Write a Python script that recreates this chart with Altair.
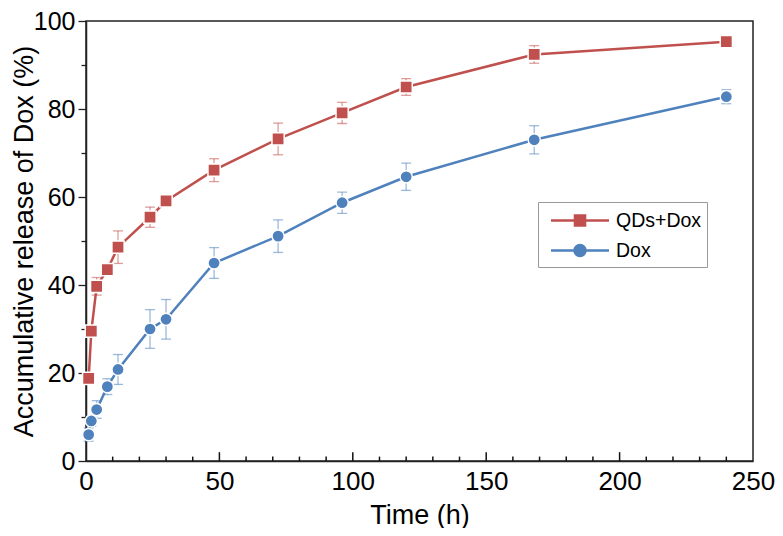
import altair as alt
import pandas as pd

times = [1, 2, 4, 8, 12, 24, 30, 48, 72, 96, 120, 168, 240]
qd_vals = [18.8, 29.5, 39.7, 43.5, 48.6, 55.4, 59.1, 66.1, 73.2, 79.1, 85.0, 92.4, 95.3]
qd_err = [1.0, 1.0, 2.0, 1.0, 3.7, 2.3, 1.0, 2.6, 3.6, 2.4, 1.9, 2.0, 1.2]
dox_vals = [6.0, 9.1, 11.7, 16.9, 20.8, 30.0, 32.2, 45.0, 51.1, 58.7, 64.6, 73.0, 82.8]
dox_err = [1.5, 1.2, 2.0, 1.8, 3.4, 4.4, 4.5, 3.5, 3.7, 2.4, 3.1, 3.2, 1.6]

series_names = ["QDs+Dox", "Dox"]
colors = ["#C0504D", "#4F81BD"]
x_major = [0, 50, 100, 150, 200, 250]
x_minor = [10, 20, 30, 40, 60, 70, 80, 90, 110, 120, 130, 140, 160, 170, 180, 190, 210, 220, 230, 240]
y_major = [0, 20, 40, 60, 80, 100]
y_minor = [10, 30, 50, 70, 90]

rows = []
for name, vals, errs in ((series_names[0], qd_vals, qd_err), (series_names[1], dox_vals, dox_err)):
    for t, v, e in zip(times, vals, errs):
        rows.append({"series": name, "t": t, "v": v, "lo": v - e, "hi": v + e})
df = pd.DataFrame(rows)

tick_rows = [{"tick": t, "len": 2.0} for t in x_major[1:-1]] + [{"tick": t, "len": 1.0} for t in x_minor]
tick_df = pd.DataFrame(tick_rows)

W, H = 667, 440
FONT = "Liberation Sans"
xs = alt.Scale(domain=[0, 250], nice=False, zero=False)
ys = alt.Scale(domain=[0, 100], nice=False, zero=False)
col = alt.Scale(domain=series_names, range=colors)
shp = alt.Scale(domain=series_names, range=["square", "circle"])

# legend glyphs: line with a marker in the middle (units of 12 px)
sq_path = "M-0.46,0H1.54M2.38,0H4.375M1.54,-0.42H2.38V0.42H1.54Z"
ci_path = ("M-0.46,0H1.5M2.42,0H4.375M1.498,0A0.46,0.46,0,1,1,2.418,0"
           "A0.46,0.46,0,1,1,1.498,0Z")
leg_shp = alt.Scale(domain=series_names, range=[sq_path, ci_path])

base = alt.Chart(df)

# inward x ticks (major and minor) from the tick value lists, through the chart's scales
x_ticks = alt.Chart(tick_df).mark_rule(strokeWidth=1.5, color="#111", opacity=1).encode(
    x=alt.X("tick:Q", scale=xs, axis=None),
    y=alt.Y("zero:Q", scale=ys, axis=None),
    y2="len:Q",
).transform_calculate(zero="0")

# error bars (also carries the minor y tick axis)
err = base.mark_rule(strokeWidth=1.3, opacity=0.55).encode(
    x=alt.X("t:Q", scale=xs, axis=None),
    y=alt.Y("lo:Q", scale=ys, axis=alt.Axis(orient="left", values=y_minor, tickSize=5, tickWidth=1.3,
                                           tickColor="#222", labels=False, domain=False, title=None,
                                           grid=False)),
    y2="hi:Q",
    color=alt.Color("series:N", scale=col, legend=None),
)
cap_lo = base.mark_tick(orient="horizontal", size=10, thickness=1.3, opacity=0.55).encode(
    x=alt.X("t:Q", scale=xs, axis=None),
    y=alt.Y("lo:Q", scale=ys, axis=None),
    color=alt.Color("series:N", scale=col, legend=None),
)
cap_hi = base.mark_tick(orient="horizontal", size=10, thickness=1.3, opacity=0.55).encode(
    x=alt.X("t:Q", scale=xs, axis=None),
    y=alt.Y("hi:Q", scale=ys, axis=None),
    color=alt.Color("series:N", scale=col, legend=None),
)

line = base.mark_line(strokeWidth=2.5).encode(
    x=alt.X("t:Q", scale=xs, axis=alt.Axis(orient="bottom", values=x_major, ticks=False, labelPadding=7,
                                          labelFontSize=26, labelFont=FONT, labelColor="black",
                                          labelFlush=False, title="Time (h)", titleFont=FONT,
                                          titleFontSize=27, titleFontWeight="normal", titleColor="black",
                                          titlePadding=8, grid=False, domainColor="#222",
                                          domainWidth=1.5)),
    y=alt.Y("v:Q", scale=ys, axis=alt.Axis(orient="left", values=y_major, tickSize=8, tickWidth=1.3,
                                          tickColor="#222", labelPadding=3, labelFontSize=25,
                                          labelFont=FONT, labelColor="black", labelFlush=False,
                                          title="Accumulative release of Dox (%)", titleFont=FONT,
                                          titleFontSize=27, titleFontWeight="normal",
                                          titleColor="black", titlePadding=-5, grid=False,
                                          domainColor="#222", domainWidth=1.5)),
    color=alt.Color("series:N", scale=col, legend=None),
)

pts = base.mark_point(filled=True, size=150, opacity=1, stroke="white", strokeWidth=1.5).encode(
    x=alt.X("t:Q", scale=xs, axis=None),
    y=alt.Y("v:Q", scale=ys, axis=None),
    color=alt.Color("series:N", scale=col, legend=None),
    shape=alt.Shape("series:N", scale=shp, legend=None),
)

leg_props = dict(orient="none", legendX=452, legendY=181, title=None, labelFontSize=19.5, labelFont=FONT,
                 labelColor="black", symbolSize=576, symbolStrokeWidth=2.5, padding=5,
                 strokeColor="#999999", fillColor="white", rowPadding=6, labelOffset=46)
leg = base.transform_filter("datum.t < 0").mark_point(filled=True, opacity=1, strokeWidth=2.5).encode(
    x=alt.X("t:Q", scale=xs, axis=None),
    y=alt.Y("v:Q", scale=ys, axis=None),
    color=alt.Color("series:N", scale=alt.Scale(domain=series_names, range=colors),
                    legend=alt.Legend(**leg_props)),
    stroke=alt.Stroke("series:N", scale=alt.Scale(domain=series_names, range=colors),
                      legend=alt.Legend(**leg_props)),
    shape=alt.Shape("series:N", scale=leg_shp, legend=alt.Legend(**leg_props)),
)

chart = alt.layer(err, cap_lo, cap_hi, line, pts, leg, x_ticks).resolve_axis(
    x="independent", y="independent"
).resolve_scale(
    color="independent", shape="independent", stroke="independent"
).properties(
    width=W, height=H,
    padding={"left": 78, "top": 13, "right": 22, "bottom": 67},
    autosize=alt.AutoSizeParams(type="none"),
).configure_view(stroke="#222", strokeWidth=1.5)

chart.save("out.html", embed_options={"renderer": "svg", "actions": False})
